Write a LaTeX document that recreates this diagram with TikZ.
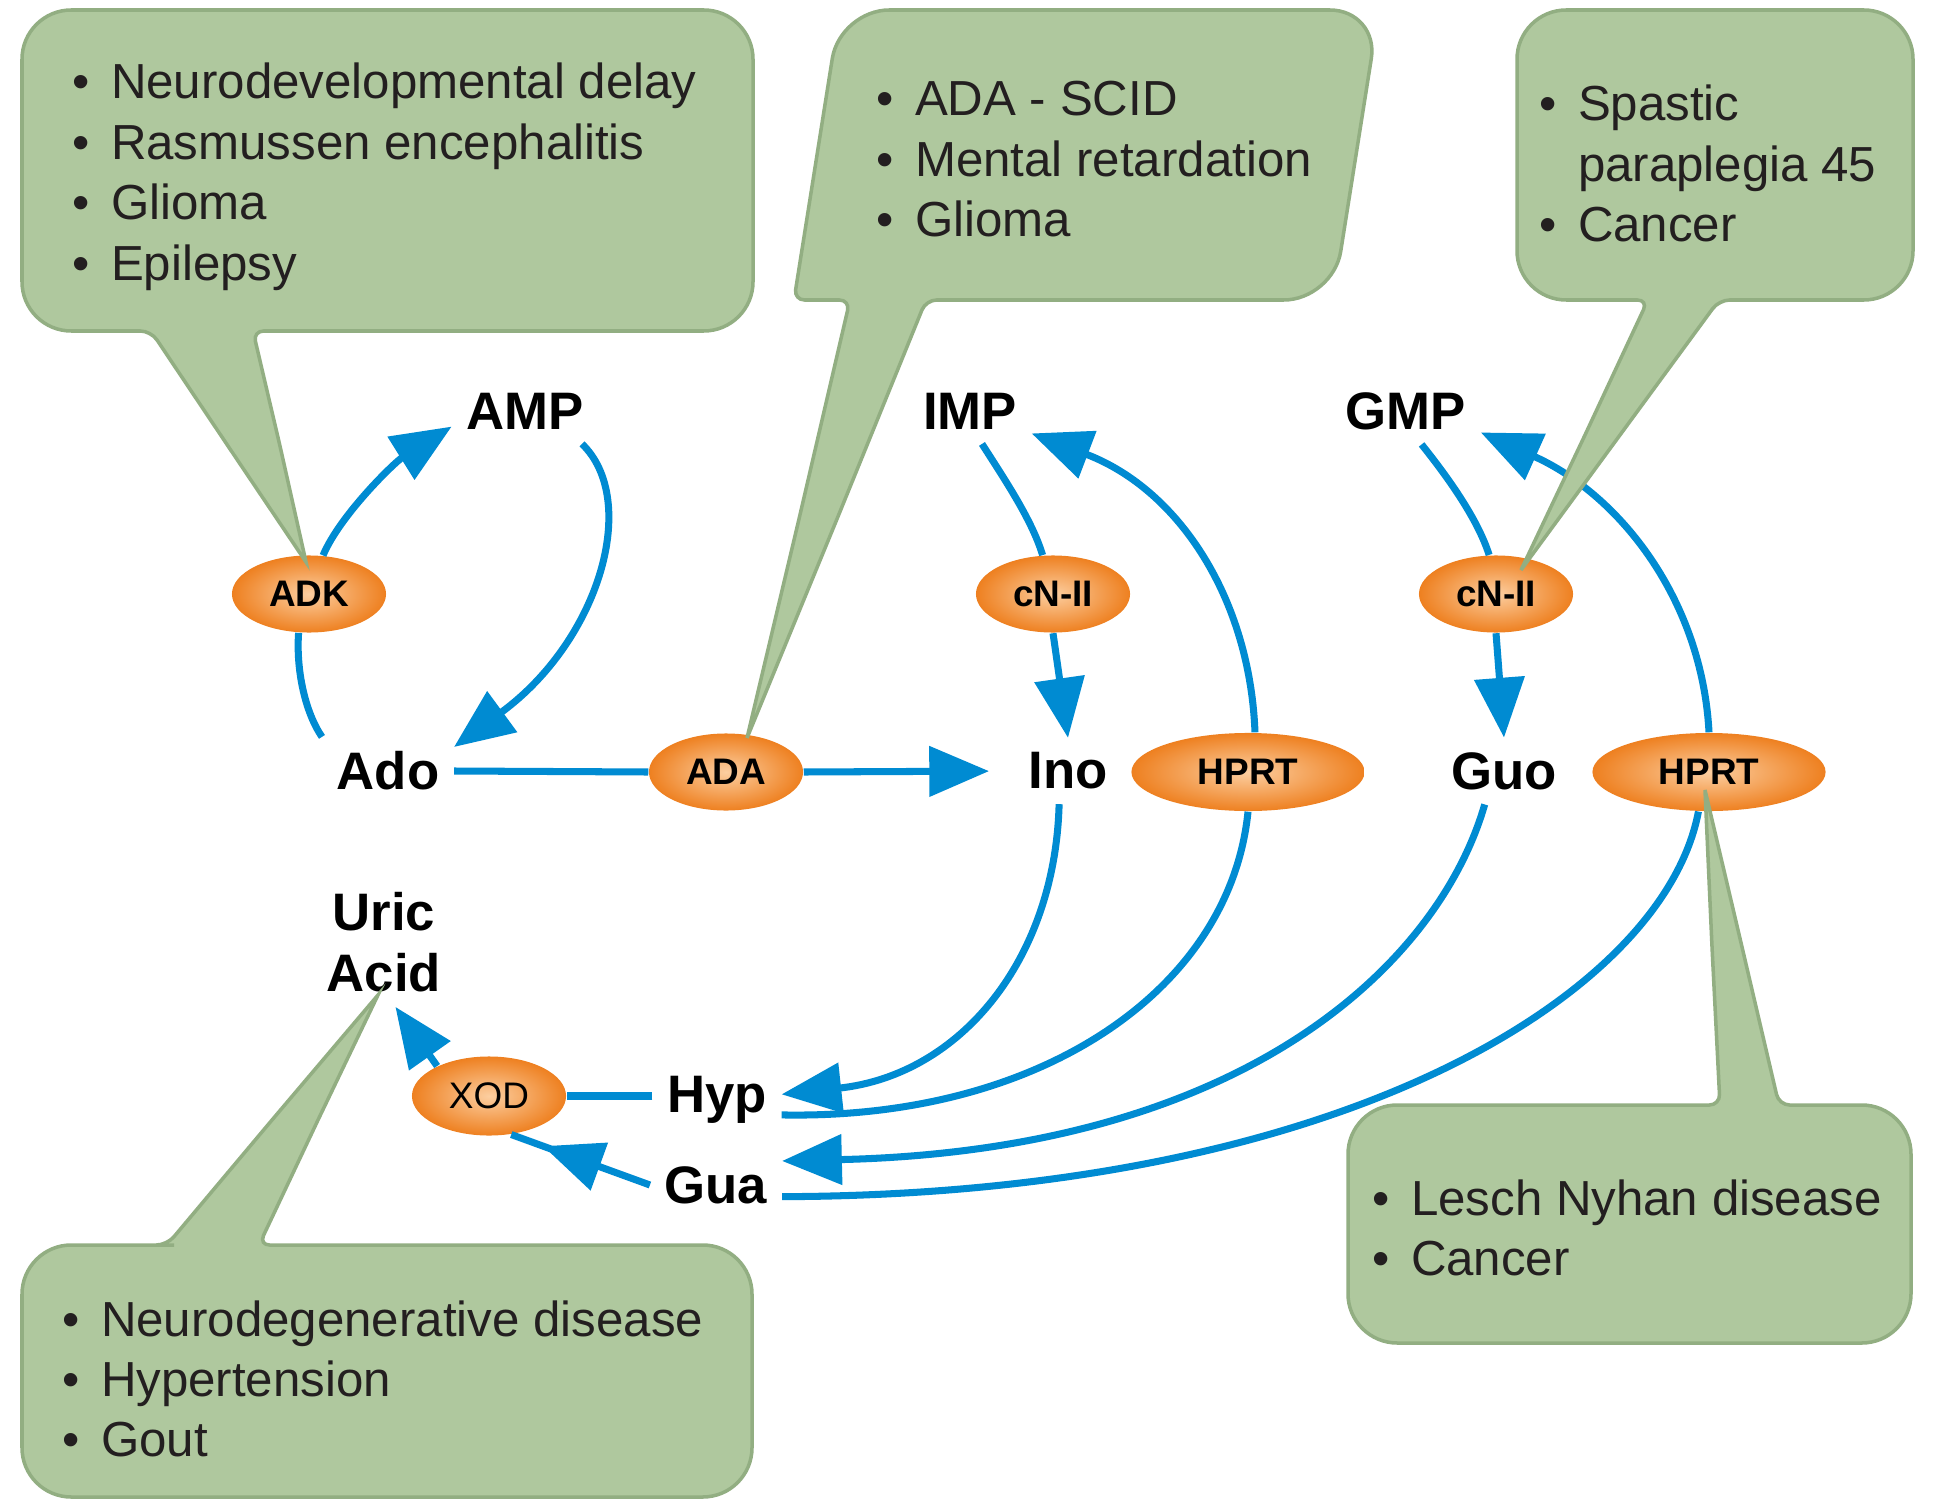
\documentclass[tikz,border=0pt]{standalone}
\usepackage{fontspec}
\setmainfont{Liberation Sans}
\usepackage{tikz}
\usetikzlibrary{arrows.meta,shapes.geometric,decorations.markings}

\definecolor{flowblue}{RGB}{0,139,210}
\definecolor{boxgreen}{RGB}{175,200,158}
\definecolor{boxedge}{RGB}{146,174,130}
\definecolor{enzorange}{RGB}{238,128,32}
\definecolor{enzlight}{RGB}{252,206,160}
\definecolor{ink}{RGB}{35,31,32}

\newcommand{\dlist}[1]{\fontsize{14}{17.2}\selectfont\color{ink}\begin{tabular}[t]{@{}l@{\hspace{6pt}}l@{}}#1\end{tabular}}

\begin{document}
\begin{tikzpicture}[
                x=0.01cm, y=-0.01cm,
                metab/.style={font=\fontsize{15}{17.5}\selectfont\bfseries, inner sep=4pt, align=center},
                enzyme/.style={ellipse, inner color=enzlight, outer color=enzorange, minimum width=1.54cm, minimum height=0.77cm, inner sep=0pt, font=\fontsize{10.5}{12}\selectfont\bfseries},
                arr/.style={-{Triangle[length=17pt,width=14pt]}, line width=2pt, flowblue},
                link/.style={line width=2pt, flowblue},
                midarr/.style={postaction={decorate}, decoration={markings, mark=at position #1 with {\arrow{Triangle[length=17pt,width=14pt]}}}},
                bubble/.style={fill=boxgreen, draw=boxedge, line width=1pt},
                note/.style={anchor=base west, inner sep=0pt},
            ]
            \path[use as bounding box, fill=white] (0,0) rectangle (1936,1503);

            \node[metab] (AMP) at (525,411)  {AMP};
            \node[metab] (IMP) at (970,411)  {IMP};
            \node[metab] (GMP) at (1406,411) {GMP};
            \node[metab] (Ado) at (388,771)  {Ado};
            \node[metab] (Ino) at (1068,771) {Ino};
            \node[metab] (Guo) at (1504,771) {Guo};
            \node[metab] (UA)  at (384,942)  {Uric\\Acid};
            \node[metab] (Hyp) at (717,1100) {Hyp};
            \node[metab] (Gua) at (716,1185) {Gua};

            \node[enzyme] (ADK)   at (309,594)  {ADK};
            \node[enzyme] (ADA)   at (726,772)  {ADA};
            \node[enzyme] (cNL)   at (1053,594) {cN-II};
            \node[enzyme] (cNR)   at (1496,594) {cN-II};
            \node[enzyme, minimum width=2.33cm, minimum height=0.78cm] (HPRTL) at (1248,772) {HPRT};
            \node[enzyme, minimum width=2.33cm, minimum height=0.78cm] (HPRTR) at (1709,772) {HPRT};
            \node[enzyme, minimum height=0.79cm, font=\fontsize{10.5}{12}\selectfont] (XOD) at (489,1096) {XOD};

            \draw[link] (Ado.north west) .. controls (305,712) and (296,670) .. (ADK.255);
            \draw[arr] (ADK.70) .. controls (340,515) and (395,462) .. (AMP.192);
            \draw[arr] (AMP.330) .. controls (640,500) and (600,640) .. (Ado.20);
            \draw[link] (Ado.east) -- (ADA.west);
            \draw[arr, shorten >=7pt] (ADA.east) -- (Ino.west);
            \draw[link] (IMP.290) .. controls (1005,480) and (1032,520) .. (cNL.105);
            \draw[arr] (cNL.south) -- (Ino.north);
            \draw[arr] (HPRTL.80) .. controls (1250,600) and (1180,490) .. (IMP.340);
            \draw[link] (GMP.295) .. controls (1450,480) and (1478,520) .. (cNR.100);
            \draw[arr] (cNR.south) -- (Guo.north);
            \draw[arr] (HPRTR.north) .. controls (1702,600) and (1620,495) .. (GMP.344);
            \draw[arr] (Ino.255) .. controls (1055,960) and (960,1075) .. (Hyp.5);
            \draw[link] (HPRTL.south) .. controls (1230,990) and (1040,1120) .. (Hyp.347);
            \draw[arr] (Guo.240) .. controls (1440,960) and (1250,1150) .. (Gua.20);
            \draw[link] (HPRTR.255) .. controls (1665,990) and (1350,1195) .. (Gua.350);
            \draw[link] (XOD.east -| Hyp.west) -- (XOD.east);
            \draw[link, midarr=0.77] (Gua.west) -- (XOD.300);
            \draw[arr] (XOD.150) -- (UA.280);

            \draw[bubble] (22,170) [rounded corners=14pt] -- (22,10) -- (753,10) -- (753,331) -- (500,331) [rounded corners=3pt] -- (253,331) -- (280,446) [sharp corners] -- (306,562) -- (228,446) [rounded corners=3pt] -- (151,331) -- (125,331) [rounded corners=14pt] -- (22,331) -- cycle;
            \draw[bubble] (817,155) [rounded corners=14pt] -- (840,10) -- (1379,10) -- (1333,300) -- (1100,300) [rounded corners=3pt] -- (926,300) -- (837,519) [sharp corners] -- (747,738) -- (799,519) [rounded corners=3pt] -- (850,300) -- (794,300) [rounded corners=14pt] -- cycle;
            \draw[bubble] (1517,155) [rounded corners=14pt] -- (1517,10) -- (1913,10) -- (1913,300) -- (1800,300) [rounded corners=3pt] -- (1719,300) -- (1620,435) [sharp corners] -- (1521,570) -- (1585,435) [rounded corners=3pt] -- (1648,300) -- (1620,300) [rounded corners=14pt] -- (1517,300) -- cycle;
            \draw[bubble] (22,1370) [rounded corners=14pt] -- (22,1245) -- (125,1245) [rounded corners=3pt] -- (167,1245) -- (272,1120) [sharp corners] -- (378,995) -- (318,1120) [rounded corners=3pt] -- (259,1245) -- (360,1245) [rounded corners=14pt] -- (752,1245) -- (752,1497) -- (22,1497) -- cycle;
            \draw[bubble] (1348,1220) [rounded corners=14pt] -- (1348,1105) -- (1450,1105) [rounded corners=3pt] -- (1720,1105) -- (1712,947) [sharp corners] -- (1705,790) -- (1742,947) [rounded corners=3pt] -- (1779,1105) -- (1805,1105) [rounded corners=14pt] -- (1911,1105) -- (1911,1343) -- (1348,1343) -- cycle;

            \node[note] (adk-notes)  at (72,99)    {\dlist{\textbullet & Neurodevelopmental delay\\ \textbullet & Rasmussen encephalitis\\ \textbullet & Glioma\\ \textbullet & Epilepsy}};
            \node[note] (ada-notes)  at (876,116)  {\dlist{\textbullet & ADA - SCID\\ \textbullet & Mental retardation\\ \textbullet & Glioma}};
            \node[note] (cn-notes)   at (1539,121) {\dlist{\textbullet & Spastic\\ & paraplegia 45\\ \textbullet & Cancer}};
            \node[note] (xod-notes)  at (62,1336)  {\dlist{\textbullet & Neurodegenerative disease\\ \textbullet & Hypertension\\ \textbullet & Gout}};
            \node[note] (hprt-notes) at (1372,1215) {\dlist{\textbullet & Lesch Nyhan disease\\ \textbullet & Cancer}};
        \end{tikzpicture}
\end{document}
